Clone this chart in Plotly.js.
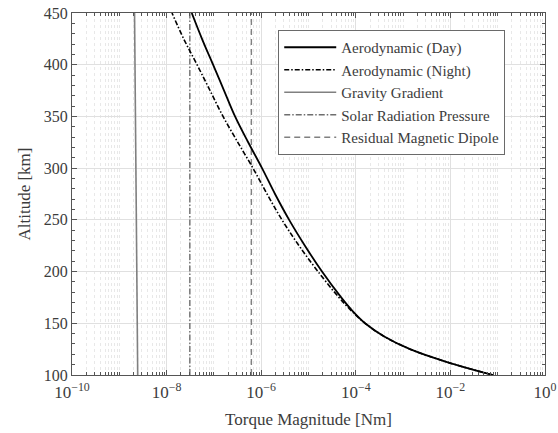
<!DOCTYPE html>
<html>
<head>
<meta charset="utf-8">
<script src="https://cdn.plot.ly/plotly-3.0.1.min.js"></script>
<style>html,body{margin:0;padding:0;background:#fff;}#chart{width:558px;height:433px;}</style>
</head>
<body>
<div id="chart"></div>
<script>
// Altitude [km]
const altitude = [100,112.5,125,137.5,150,162.5,175,200,225,250,275,300,325,350,375,400,425,450];
// Torque magnitudes [Nm]
const aeroDay   = [8.0e-2,8.5e-3,1.4e-3,3.9e-4,1.57e-4,8.3e-5,4.9e-5,1.93e-5,8.4e-6,3.9e-6,1.96e-6,1.04e-6,5.3e-7,2.8e-7,1.64e-7,9.6e-8,5.6e-8,3.4e-8];
const aeroNight = [8.0e-2,8.5e-3,1.4e-3,3.9e-4,1.57e-4,7.9e-5,4.4e-5,1.59e-5,6.3e-6,2.75e-6,1.33e-6,6.7e-7,3.2e-7,1.56e-7,8.3e-8,4.4e-8,2.3e-8,1.3e-8];
const altGG = [100,200,300,400,450];
const gravityGradient = [2.45e-9,2.34e-9,2.24e-9,2.14e-9,2.1e-9];
const altConst = [100,450];
const solarPressure = [3.1e-8,3.1e-8];
const magneticDipole = [6.2e-7,6.2e-7];
const seriesNames = ["Aerodynamic (Day)","Aerodynamic (Night)","Gravity Gradient","Solar Radiation Pressure","Residual Magnetic Dipole"];
const xTickVals = [1e-10,1e-8,1e-6,1e-4,1e-2,1];
const xTickText = ["10<sup>−10</sup>","10<sup>−8</sup>","10<sup>−6</sup>","10<sup>−4</sup>","10<sup>−2</sup>","10<sup>0</sup>"];

const minorX = [];
for (let k = -10; k < 0; k++) {
  for (let m = 1; m <= 9; m++) {
    if (m === 1 && (k % 2 === 0)) continue;
    minorX.push(m * Math.pow(10, k));
  }
}

const FONT = "Liberation Serif, Times New Roman, serif";
const TXT = "#3c3c3c";

const traces = [
  {x: gravityGradient, y: altGG, name: seriesNames[2], mode: "lines", line: {color: "#808080", width: 1.6}},
  {x: solarPressure, y: altConst, name: seriesNames[3], mode: "lines", line: {color: "#6e6e6e", width: 1.4, dash: "6px,2px,1.5px,2px"}},
  {x: magneticDipole, y: altConst, name: seriesNames[4], mode: "lines", line: {color: "#808080", width: 1.4, dash: "6px,4px"}},
  {x: aeroNight, y: altitude, name: seriesNames[1], mode: "lines", line: {color: "#000000", width: 1.6, dash: "5px,2px,1.5px,2px", shape: "spline"}},
  {x: aeroDay, y: altitude, name: seriesNames[0], mode: "lines", line: {color: "#000000", width: 1.8, shape: "spline"}}
];
traces[4].legendrank = 1; traces[3].legendrank = 2; traces[0].legendrank = 3; traces[1].legendrank = 4; traces[2].legendrank = 5;

const layout = {
  width: 558, height: 433,
  margin: {l: 72, r: 13, t: 13, b: 58},
  paper_bgcolor: "#ffffff", plot_bgcolor: "#ffffff",
  font: {family: FONT, color: TXT, size: 15},
  showlegend: true,
  legend: {
    x: 0.436, y: 0.953, xanchor: "left", yanchor: "top",
    bgcolor: "#ffffff", bordercolor: "#6a6a6a", borderwidth: 1,
    font: {family: FONT, size: 15, color: TXT},
    tracegroupgap: 0, itemwidth: 52
  },
  xaxis: {
    type: "log", range: [-10, 0],
    tickmode: "array", tickvals: xTickVals, ticktext: xTickText,
    ticks: "inside", ticklen: 5, tickcolor: "#555",
    showline: true, linecolor: "#555", linewidth: 1, mirror: "allticks",
    showgrid: true, gridcolor: "#e0e0e0", gridwidth: 1,
    zeroline: false, ticklabelstandoff: 2,
    tickfont: {family: FONT, size: 17, color: TXT},
    minor: {tickmode: "array", tickvals: minorX, ticks: "inside", ticklen: 3, tickcolor: "#555",
            showgrid: true, gridcolor: "#e8e8e8", griddash: "dot", gridwidth: 1},
    title: {text: "Torque Magnitude [Nm]", font: {family: FONT, size: 17, color: TXT}, standoff: 11},
    automargin: false
  },
  yaxis: {
    range: [100, 450], tickmode: "linear", tick0: 100, dtick: 50,
    ticks: "inside", ticklen: 5, tickcolor: "#555",
    showline: true, linecolor: "#555", linewidth: 1, mirror: "allticks",
    showgrid: true, gridcolor: "#e0e0e0", gridwidth: 1,
    zeroline: false,
    tickfont: {family: FONT, size: 16, color: TXT},
    minor: {dtick: 10, ticks: "inside", ticklen: 3, tickcolor: "#555", showgrid: false},
    title: {text: "Altitude [km]", font: {family: FONT, size: 17, color: TXT}, standoff: 8},
    automargin: false
  }
};

Plotly.newPlot("chart", traces, layout, {staticPlot: true, displayModeBar: false});
</script>
</body>
</html>
